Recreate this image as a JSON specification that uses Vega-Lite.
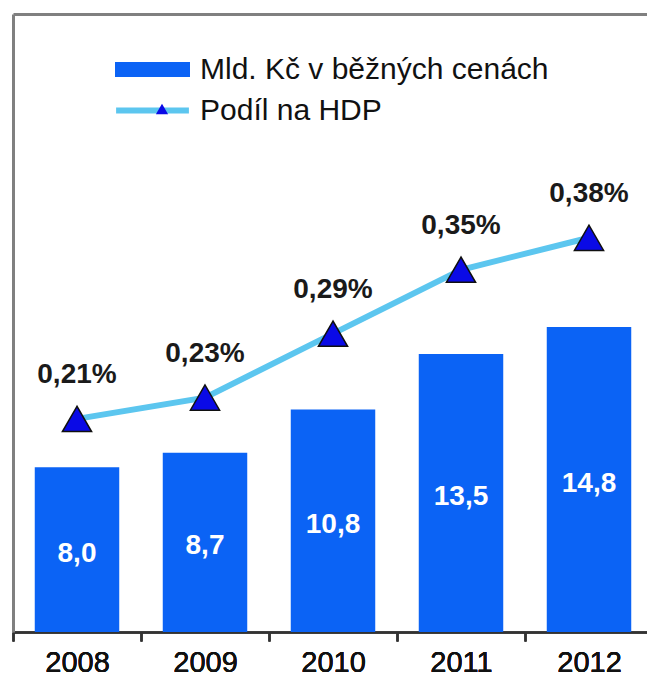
{
  "$schema": "https://vega.github.io/schema/vega-lite/v6.json",
  "width": 634,
  "height": 618,
  "autosize": {"type": "none"},
  "padding": {"left": 13, "top": 14, "right": 0, "bottom": 48},
  "background": "white",
  "config": {
    "locale": {"number": {"decimal": ",", "thousands": " ", "grouping": [3], "currency": ["", " Kč"]}},
    "view": {"stroke": null},
    "font": "Liberation Sans"
  },
  "data": {
    "values": [
      {"rok": "2008", "mld": 8.0, "podil": 0.0021, "s1": "Mld. Kč v běžných cenách", "s2": "Podíl na HDP", "s3": "Podíl na HDP"},
      {"rok": "2009", "mld": 8.7, "podil": 0.0023, "s1": "Mld. Kč v běžných cenách", "s2": "Podíl na HDP", "s3": "Podíl na HDP"},
      {"rok": "2010", "mld": 10.8, "podil": 0.0029, "s1": "Mld. Kč v běžných cenách", "s2": "Podíl na HDP", "s3": "Podíl na HDP"},
      {"rok": "2011", "mld": 13.5, "podil": 0.0035, "s1": "Mld. Kč v běžných cenách", "s2": "Podíl na HDP", "s3": "Podíl na HDP"},
      {"rok": "2012", "mld": 14.8, "podil": 0.0038, "s1": "Mld. Kč v běžných cenách", "s2": "Podíl na HDP", "s3": "Podíl na HDP"}
    ]
  },
  "encoding": {
    "x": {
      "field": "rok",
      "type": "nominal",
      "sort": null,
      "scale": {"range": [0, 640], "paddingInner": 0, "paddingOuter": 0},
      "axis": {
        "orient": "bottom",
        "title": null,
        "labelAngle": 0,
        "labelFontSize": 29,
        "labelColor": "#111111",
        "labelFont": "Liberation Sans",
        "tickBand": "extent",
        "tickSize": 9,
        "tickColor": "#333333",
        "tickWidth": 2,
        "domainColor": "#333333",
        "domainWidth": 2,
        "labelPadding": 7
      }
    }
  },
  "layer": [
    {
      "mark": {"type": "bar", "width": {"band": 0.66}},
      "encoding": {
        "y": {
          "field": "mld",
          "type": "quantitative",
          "scale": {"domain": [0, 30]},
          "axis": {"orient": "left", "title": null, "labels": false, "ticks": false, "grid": false, "domainColor": "#808080", "domainWidth": 3}
        },
        "color": {
          "field": "s1",
          "type": "nominal",
          "scale": {"range": ["#0b63f5"]},
          "legend": {
            "orient": "none",
            "legendX": 102,
            "legendY": 18,
            "title": null,
            "padding": 0,
            "symbolType": "M-1,-0.2H1V0.2H-1Z",
            "symbolSize": 5625,
            "symbolStrokeWidth": 0,
            "labelFontSize": 30,
            "labelOffset": 10,
            "labelLimit": 600,
            "labelColor": "#111111",
            "labelFont": "Liberation Sans"
          }
        }
      }
    },
    {
      "mark": {"type": "text", "color": "white", "fontSize": 28, "fontWeight": "bold", "baseline": "middle", "dy": 4},
      "encoding": {
        "y": {"field": "mld", "type": "quantitative", "scale": {"domain": [0, 60]}, "axis": null},
        "text": {"field": "mld", "type": "quantitative", "format": ".1f"}
      }
    },
    {
      "mark": {"type": "line", "strokeWidth": 6},
      "encoding": {
        "y": {"field": "podil", "type": "quantitative", "scale": {"domain": [0.0001, 0.0059], "zero": false}, "axis": null},
        "stroke": {
          "field": "s2",
          "type": "nominal",
          "scale": {"range": ["#5cc6ef"]},
          "legend": {
            "orient": "none",
            "legendX": 100,
            "legendY": 57,
            "title": null,
            "padding": 0,
            "symbolType": "stroke",
            "symbolSize": 5300,
            "symbolStrokeWidth": 6,
            "symbolStrokeColor": "#5cc6ef",
            "labelFontSize": 30,
            "labelOffset": 8,
            "labelLimit": 600,
            "labelColor": "#111111",
            "labelFont": "Liberation Sans"
          }
        }
      }
    },
    {
      "mark": {"type": "point", "filled": true, "fill": "#0a0ae6", "stroke": "#101010", "strokeWidth": 1.5, "size": 850, "opacity": 1},
      "encoding": {
        "y": {"field": "podil", "type": "quantitative", "scale": {"domain": [0.0001, 0.0059], "zero": false}, "axis": null},
        "shape": {
          "field": "s3",
          "type": "nominal",
          "scale": {"range": ["triangle-up"]},
          "legend": {
            "orient": "none",
            "legendX": 134,
            "legendY": 80,
            "title": null,
            "padding": 0,
            "symbolSize": 150,
            "symbolFillColor": "#0a0ae6",
            "symbolStrokeColor": "#101010",
            "symbolStrokeWidth": 1,
            "labelFontSize": 30,
            "labelExpr": "''",
            "labelLimit": 600
          }
        }
      }
    },
    {
      "mark": {"type": "text", "color": "#1a1a1a", "fontSize": 28, "fontWeight": "bold", "baseline": "alphabetic", "dy": -36},
      "encoding": {
        "x": {
          "field": "rok",
          "type": "nominal",
          "sort": null,
          "axis": {"orient": "top", "title": null, "labels": false, "ticks": false, "domainColor": "#808080", "domainWidth": 3}
        },
        "y": {"field": "podil", "type": "quantitative", "scale": {"domain": [0.0001, 0.0059], "zero": false}, "axis": null},
        "text": {"field": "podil", "type": "quantitative", "format": ".2%"}
      }
    }
  ],
  "resolve": {"scale": {"y": "independent"}}
}
